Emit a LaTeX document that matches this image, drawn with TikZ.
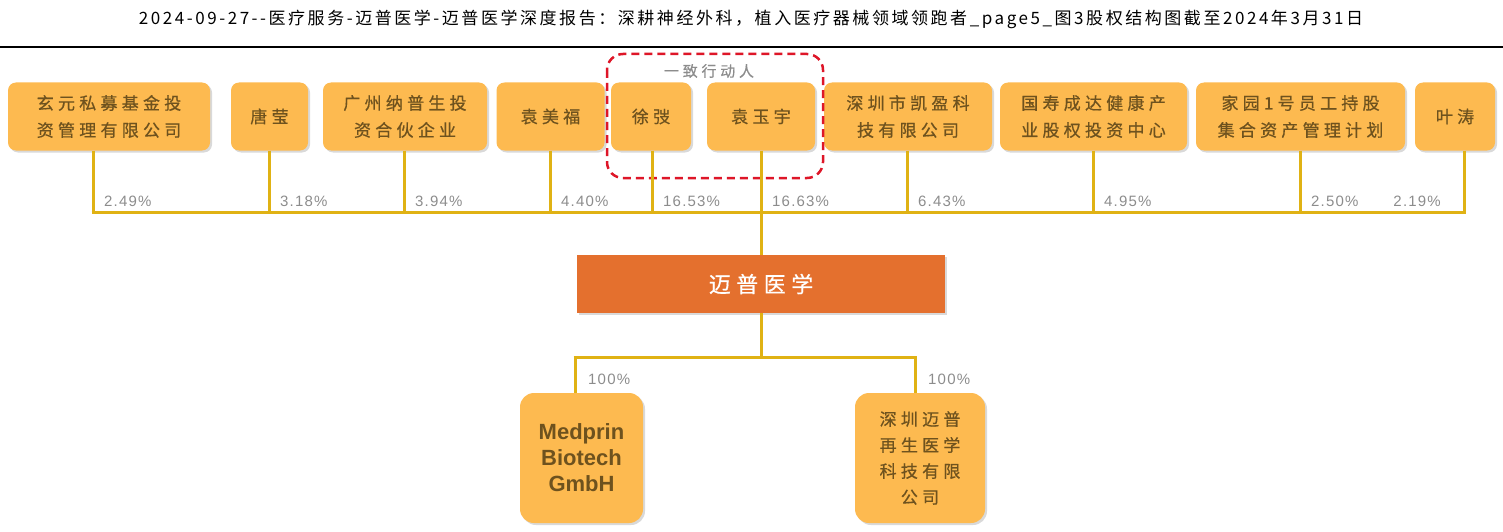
\documentclass[tikz,border=0pt]{standalone}
\usepackage{fontspec}
\setmainfont{Liberation Sans}
\newfontfamily\cjk[LetterSpace=15]{Noto Sans CJK SC}
\newfontfamily\cjkwide[LetterSpace=25,FakeBold=0.6]{Noto Sans CJK SC}
\newfontfamily\pctfont[LetterSpace=8]{Liberation Sans}
\usetikzlibrary{shadows}

\definecolor{boxfill}{RGB}{253,186,80}
\definecolor{boxtext}{RGB}{110,82,30}
\definecolor{stakegold}{RGB}{224,178,20}
\definecolor{mainfill}{RGB}{228,112,46}
\definecolor{pctgray}{RGB}{140,140,140}
\definecolor{actred}{RGB}{222,22,40}

\begin{document}
\begin{tikzpicture}[x=1pt,y=-1pt,
      holder/.style={fill=boxfill, rounded corners=8pt, text=boxtext, align=center,
        inner sep=0pt, minimum height=68pt,
        font=\cjkwide\fontsize{17}{27}\selectfont,
        drop shadow={shadow xshift=2pt, shadow yshift=-2pt, opacity=0.3}},
      stake/.style={stakegold, line width=3pt},
      pct/.style={text=pctgray, font=\pctfont\fontsize{15}{15}\selectfont, anchor=base west, inner sep=0pt}]

      \useasboundingbox (0,0) rectangle (1503,532);

% Title
      \node (title) at (751,19) {\cjk\fontsize{17}{20}\selectfont 2024-09-27--医疗服务-迈普医学-迈普医学深度报告：深耕神经外科，植入医疗器械领域领跑者\_page5\_图3股权结构图截至2024年3月31日};
      \draw[line width=1.5pt] (0,47) -- (1503,47);

% Shareholders
      \node[holder, minimum width=202pt] (xuanyuan) at (109,116.5) {玄元私募基金投\\资管理有限公司};
      \node[holder, minimum width=77pt] (tangying) at (269.5,116.5) {唐莹};
      \node[holder, minimum width=164pt] (napu) at (405,116.5) {广州纳普生投\\资合伙企业};
      \node[holder, minimum width=108pt] (yuanmeifu) at (550.5,116.5) {袁美福};
      \node[holder, minimum width=80pt] (xutao) at (651,116.5) {徐弢};
      \node[holder, minimum width=108pt] (yuanyuyu) at (761,116.5) {袁玉宇};
      \node[holder, minimum width=168pt] (kaiying) at (908,116.5) {深圳市凯盈科\\技有限公司};
      \node[holder, minimum width=187pt] (guoshou) at (1093.5,116.5) {国寿成达健康产\\业股权投资中心};
      \node[holder, minimum width=209pt] (jiayuan) at (1300.5,116.5) {家园1号员工持股\\集合资产管理计划};
      \node[holder, minimum width=80pt] (yetao) at (1455,116.5) {叶涛};

% Concert parties
      \draw[actred, line width=2.5pt, dash pattern=on 8pt off 5pt, rounded corners=16pt]
      (607,54) rectangle (823,178);
      \node[text=pctgray, font=\cjkwide\fontsize{15}{15}\selectfont] (concert) at (709,71) {一致行动人};

% Stakes
      \foreach \n/\x/\p in {xuanyuan/93/2.49, tangying/269/3.18, napu/404/3.94,
        yuanmeifu/550/4.40, xutao/652/16.53, yuanyuyu/761/16.63, kaiying/907/6.43,
        guoshou/1093/4.95, jiayuan/1300/2.50}{
        \draw[stake] (\n.south -| \x,0) -- (\x,212);
        \node[pct] at (\x+11,206) {\p\%};
      }
      \draw[stake] (yetao.south -| 1464,0) -- (1464,212);
      \node[pct, anchor=base east] at (1441,206) {2.19\%};
      \draw[stake] (91.5,212) -- (1465.5,212);

% Company
      \node[fill=mainfill, minimum width=368pt, minimum height=58pt, text=white,
      font=\cjkwide\fontsize{22}{22}\selectfont,
      drop shadow={shadow xshift=2pt, shadow yshift=-2pt, opacity=0.3}] (maipu) at (761,284) {迈普医学};
      \draw[stake] (761,212) -- (maipu.north);

% Subsidiaries
      \node[holder, minimum width=123pt, minimum height=130pt, rounded corners=14pt,
      font=\bfseries\fontsize{22}{26}\selectfont] (medprin) at (581.5,458) {Medprin\\Biotech\\GmbH};
      \node[holder, minimum width=130pt, minimum height=130pt, rounded corners=14pt,
      font=\cjkwide\fontsize{17}{26}\selectfont] (regen) at (920,458) {深圳迈普\\再生医学\\科技有限\\公司};
      \draw[stake] (maipu.south) -- (761,357);
      \draw[stake] (573.5,357) -- (916.5,357);
      \draw[stake] (575,357) -- (medprin.north -| 575,0);
      \draw[stake] (915,357) -- (regen.north -| 915,0);
      \node[pct] at (588,384) {100\%};
      \node[pct] at (928,384) {100\%};

    \end{tikzpicture}
\end{document}
